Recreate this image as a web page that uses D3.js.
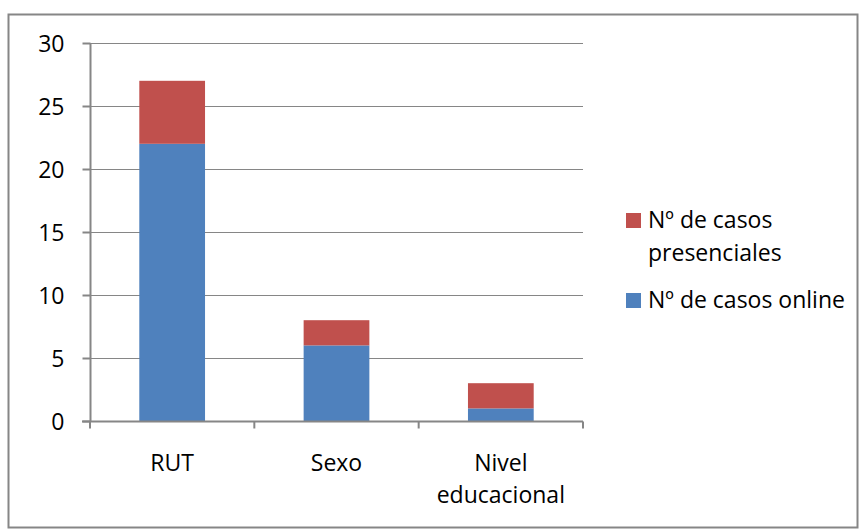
<!DOCTYPE html>
<html lang="es">
<head>
<meta charset="UTF-8">
<title>Casos</title>
<style>
  body { margin: 0; background: #fff; font-family: 'Open Sans', sans-serif; }
  svg { display: block; }
  .axis text { fill: #000; font-size: 23px; font-family: 'Open Sans', sans-serif; }
</style>
</head>
<body>
<svg width="865" height="531"></svg>
<script src="https://d3js.org/d3.v7.min.js"></script>
<script>
const categories = ["RUT", "Sexo", "Nivel educacional"];
const online = [22, 6, 1];
const presenciales = [5, 2, 2];
const seriesNames = ["Nº de casos online", "Nº de casos presenciales"];
const yTicks = [0, 5, 10, 15, 20, 25, 30];

const svg = d3.select("svg");
const grey = "#868686";
const colors = ["#4F81BD", "#C0504D"];

// outer frame
svg.append("rect")
  .attr("x", 8.5).attr("y", 14.5)
  .attr("width", 849).attr("height", 513)
  .attr("fill", "none").attr("stroke", grey).attr("stroke-width", 2);

const x = d3.scaleBand().domain(categories).range([90, 583]).paddingInner(0.6).paddingOuter(0.3);
const y = d3.scaleLinear().domain([0, 30]).range([421, 43]);

// gridlines
svg.append("g").selectAll("line").data(yTicks.slice(1)).join("line")
  .attr("x1", 90).attr("x2", 583)
  .attr("y1", d => Math.round(y(d)) + 0.5).attr("y2", d => Math.round(y(d)) + 0.5)
  .attr("stroke", grey).attr("stroke-width", 1);

const data = categories.map((c, i) => ({ cat: c, online: online[i], presenciales: presenciales[i] }));
const stacked = d3.stack().keys(["online", "presenciales"])(data);

svg.append("g").selectAll("g").data(stacked).join("g")
  .attr("fill", (d, i) => colors[i])
  .selectAll("rect").data(d => d).join("rect")
  .attr("x", d => x(d.data.cat))
  .attr("width", x.bandwidth())
  .attr("y", d => y(d[1]))
  .attr("height", d => y(d[0]) - y(d[1]));

// y axis
const yAxis = svg.append("g").attr("class", "axis")
  .attr("transform", "translate(90.5,0)")
  .call(d3.axisLeft(y).tickValues(yTicks).tickSize(8).tickPadding(18));
yAxis.selectAll("line").attr("stroke", grey).attr("stroke-width", 2);
yAxis.select(".domain").attr("stroke", grey).attr("stroke-width", 2).attr("d", "M0,43V421");
yAxis.selectAll("text").attr("dy", "0.35em");

// x axis
const xAxisG = svg.append("g").attr("class", "axis").attr("transform", "translate(0,421.5)");
xAxisG.append("line").attr("x1", 82).attr("x2", 583).attr("stroke", grey).attr("stroke-width", 2);
const xEdges = [90, ...categories.map(c => x(c) + x.bandwidth() / 2 + x.step() / 2)];
xAxisG.selectAll(".tk").data(xEdges).join("line").attr("class", "tk")
  .attr("x1", d => d).attr("x2", d => d).attr("y1", 0).attr("y2", 7)
  .attr("stroke", grey).attr("stroke-width", 2);

const labels = xAxisG.selectAll(".lbl").data(categories).join("text").attr("class", "lbl")
  .attr("text-anchor", "middle")
  .attr("x", d => x(d) + x.bandwidth() / 2)
  .attr("y", 49);
labels.each(function(d) {
  const words = d === "Nivel educacional" ? ["Nivel", "educacional"] : [d];
  d3.select(this).selectAll("tspan").data(words).join("tspan")
    .attr("x", x(d) + x.bandwidth() / 2)
    .attr("dy", (w, i) => i === 0 ? 0 : 32)
    .text(w => w);
});

// legend
const legend = svg.append("g").attr("class", "axis");
const legendItems = [
  { color: colors[1], lines: ["Nº de casos", "presenciales"], y: 213 },
  { color: colors[0], lines: ["Nº de casos online"], y: 293 }
];
legendItems.forEach(it => {
  legend.append("rect").attr("x", 626).attr("y", it.y).attr("width", 15).attr("height", 15).attr("fill", it.color);
  const t = legend.append("text").attr("x", 648).attr("y", it.y + 15);
  it.lines.forEach((l, i) => t.append("tspan").attr("x", 648).attr("dy", i === 0 ? 0 : 33).text(l));
});
</script>
</body>
</html>
